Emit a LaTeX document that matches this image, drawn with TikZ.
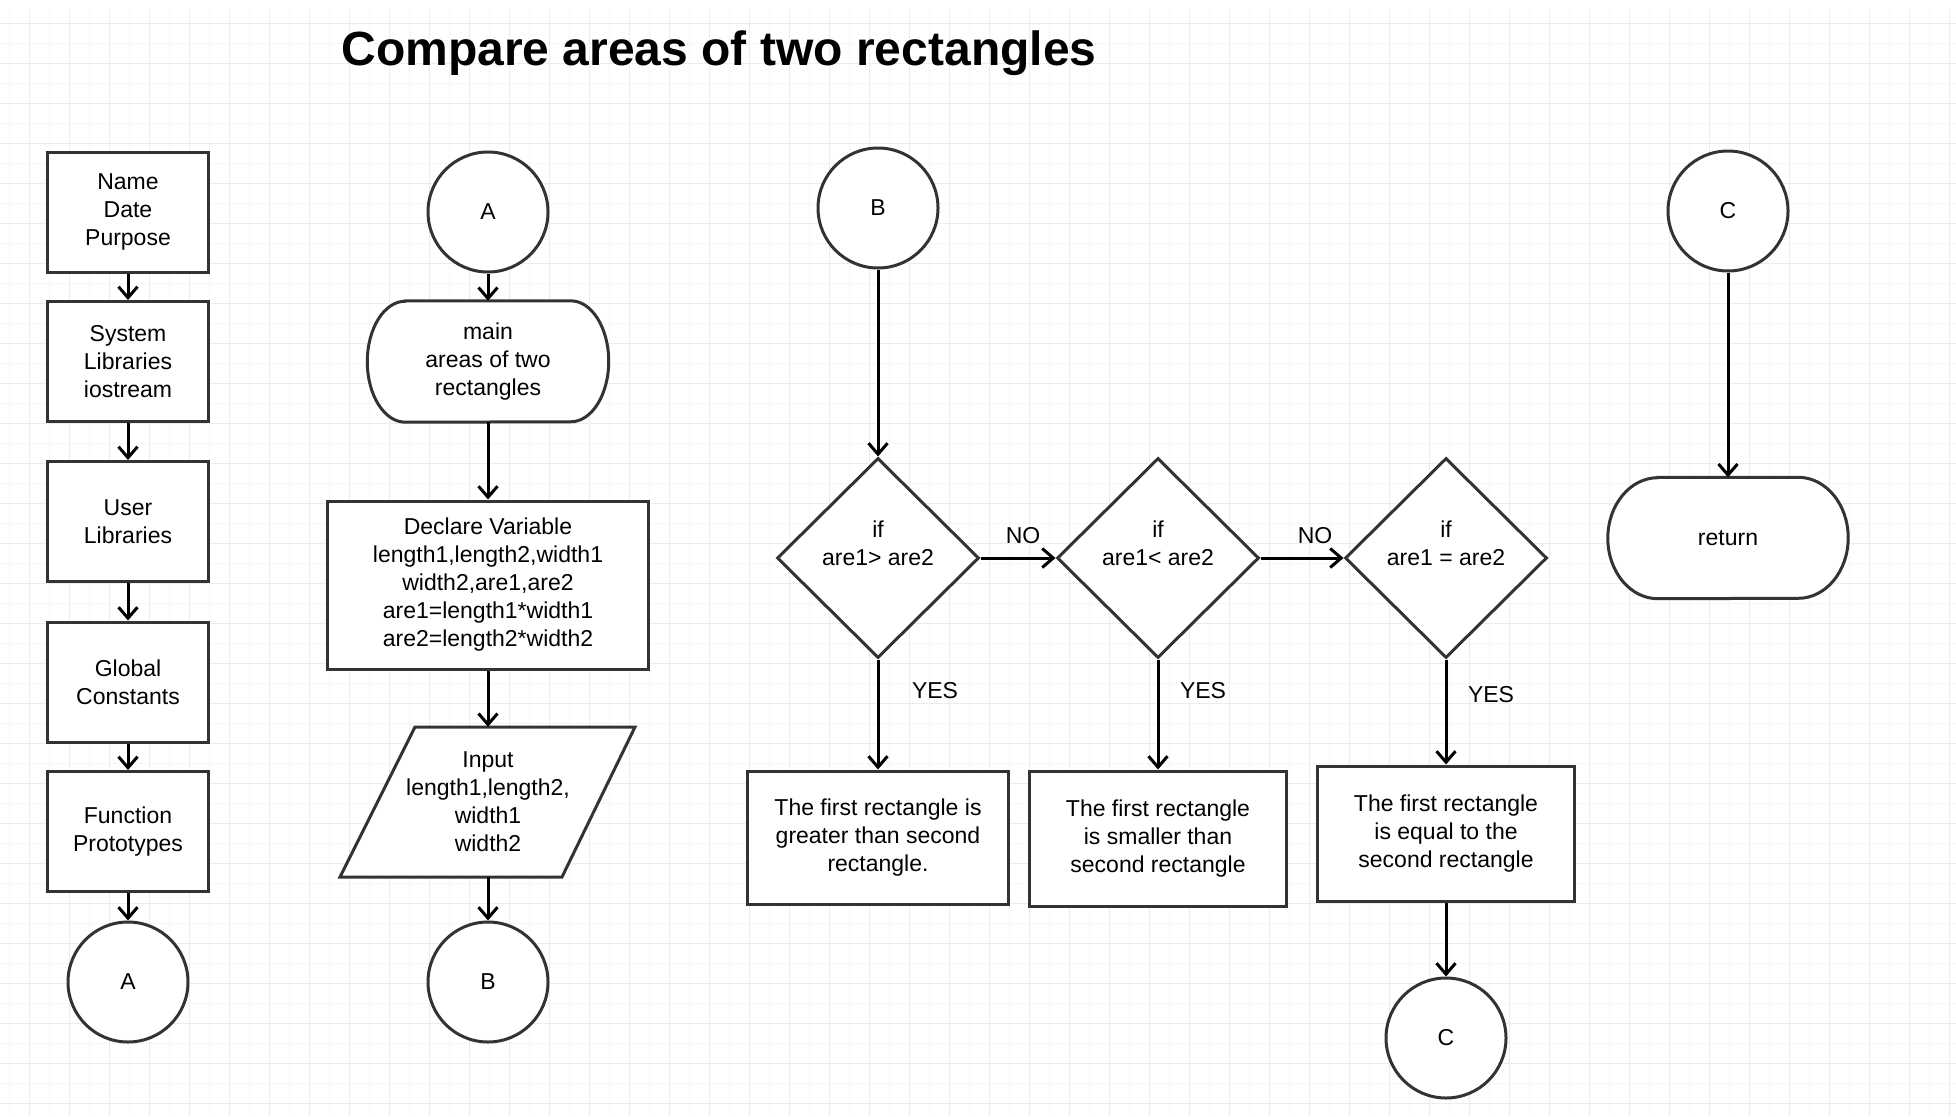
\documentclass[tikz,border=0pt]{standalone}
\usepackage{fontspec}
\setmainfont{Liberation Sans}
\usetikzlibrary{arrows.meta,shapes.geometric}
\definecolor{gridmin}{RGB}{245,245,254}
\definecolor{gridmaj}{RGB}{234,234,252}
\definecolor{edge}{RGB}{51,51,51}
\begin{document}
\begin{tikzpicture}[x=1pt,y=-1pt,
  txt/.style={font=\fontsize{23}{28}\selectfont, align=center, text=black},
  procbox/.style={txt, draw=edge, line width=3pt, fill=white, rectangle, inner sep=0pt},
  conn/.style={txt, draw=edge, line width=3pt, fill=white, circle, minimum size=120pt, inner sep=0pt},
  dec/.style={draw=edge, line width=3pt, fill=white, diamond, minimum width=202pt, minimum height=200pt, inner sep=0pt},
  shapeline/.style={draw=edge, line width=3pt, fill=white},
  flow/.style={line width=3pt, black, -{Straight Barb[length=11pt,width=19pt]}},
  lbl/.style={font=\fontsize{23}{28}\selectfont, text=black}
]
\useasboundingbox (0,0) rectangle (1956,1116);
\fill[white] (0,0) rectangle (1956,1116);
% grid
\foreach \i in {0,...,97} \draw[gridmin,line width=1.5pt] ({9.3+20*\i},10) -- ({9.3+20*\i},1116);
\foreach \j in {1,...,55} \draw[gridmin,line width=1.5pt] (0,{3.3+20*\j}) -- (1956,{3.3+20*\j});
\foreach \i in {0,...,48} \draw[gridmaj,line width=1.5pt] ({29.3+40*\i},10) -- ({29.3+40*\i},1116);
\foreach \j in {0,...,27} \draw[gridmaj,line width=1.5pt] (0,{23.3+40*\j}) -- (1956,{23.3+40*\j});

% title
\node[anchor=base, font=\fontsize{48}{56}\selectfont\bfseries] (title) at (719,66) {Compare areas of two rectangles};

% column 1
\node[procbox, minimum width=161pt, minimum height=120pt] (name) at (128,212) {Name\\Date\\Purpose};
\node[procbox, minimum width=161pt, minimum height=120pt] (sys) at (128,361.5) {System\\Libraries\\iostream};
\node[procbox, minimum width=161pt, minimum height=120pt] (user) at (128,521.5) {User\\Libraries};
\node[procbox, minimum width=161pt, minimum height=120pt] (glob) at (128,682) {Global\\Constants};
\node[procbox, minimum width=161pt, minimum height=120pt] (func) at (128,831.5) {Function\\Prototypes};
\node[conn] (a1) at (128,982) {A};
\draw[flow] (name) -- (sys);
\draw[flow] (sys) -- (user);
\draw[flow] (user) -- (glob);
\draw[flow] (glob) -- (func);
\draw[flow] (func) -- (a1);

% column 2
\node[conn] (a2) at (488,212) {A};
\node[txt, minimum width=241pt, minimum height=121pt, inner sep=0pt] (main) at (488,361.5) {};
\draw[shapeline] ([xshift=38pt]main.north west) -- ([xshift=-38pt]main.north east)
  arc[start angle=90, end angle=-90, x radius=38pt, y radius=60.5pt]
  -- ([xshift=38pt]main.south west)
  arc[start angle=270, end angle=90, x radius=38pt, y radius=60.5pt] -- cycle;
\node[txt] (maintxt) at (main) {main\\areas of two\\rectangles};
\node[procbox, minimum width=321pt, minimum height=168pt] (decl) at (488,585) {Declare Variable\\length1,length2,width1\\width2,are1,are2\\are1=length1*width1\\are2=length2*width2};
\node[txt, minimum width=220pt, minimum height=150pt, inner sep=0pt] (inp) at (488,802) {};
\draw[shapeline] (415,727) -- (635,727) -- (562,877) -- (340,877) -- cycle;
\node[txt] (inptxt) at (inp) {Input\\length1,length2,\\width1\\width2};
\node[conn] (b2) at (488,982) {B};
\draw[flow] (a2) -- (main);
\draw[flow] (main) -- (decl);
\draw[flow] (decl) -- (inp);
\draw[flow] (inp) -- (b2);

% column 3
\node[conn] (b3) at (878,208) {B};
\node[dec] (d1) at (878,558) {};
\node[dec] (d2) at (1158,558) {};
\node[dec] (d3) at (1446,558) {};
\node[txt] (d1t) at (878,543) {if\\are1> are2};
\node[txt] (d2t) at (1158,543) {if\\are1< are2};
\node[txt] (d3t) at (1446,543) {if\\are1 = are2};
\node[procbox, minimum width=261pt, minimum height=133pt] (r1) at (878,837.5) {The first rectangle is\\greater than second\\rectangle.};
\node[procbox, minimum width=257pt, minimum height=135pt] (r2) at (1158,838.5) {The first rectangle\\is smaller than\\second rectangle};
\node[procbox, minimum width=257pt, minimum height=135pt] (r3) at (1446,833.5) {The first rectangle\\is equal to the\\second rectangle};
\node[conn] (c3) at (1446,1038) {C};
\draw[flow] (b3) -- (d1);
\draw[flow] (d1) -- (d2);
\draw[flow] (d2) -- (d3);
\draw[flow] (d1) -- (r1);
\draw[flow] (d2) -- (r2);
\draw[flow] (d3) -- (r3);
\draw[flow] (r3) -- (c3);
\node[lbl] (no1) at (1023,536) {NO};
\node[lbl] (no2) at (1315,536) {NO};
\node[lbl] (yes1) at (935,691) {YES};
\node[lbl] (yes2) at (1203,691) {YES};
\node[lbl] (yes3) at (1491,695) {YES};

% column 4
\node[conn] (c4) at (1728,211) {C};
\node[txt, minimum width=240pt, minimum height=121pt, inner sep=0pt] (ret) at (1728,538) {};
\draw[shapeline] ([xshift=50pt]ret.north west) -- ([xshift=-50pt]ret.north east)
  arc[start angle=90, end angle=-90, x radius=50pt, y radius=60.5pt]
  -- ([xshift=50pt]ret.south west)
  arc[start angle=270, end angle=90, x radius=50pt, y radius=60.5pt] -- cycle;
\node[txt] (rettxt) at (ret) {return};
\draw[flow] (c4) -- (ret);
\end{tikzpicture}
\end{document}
